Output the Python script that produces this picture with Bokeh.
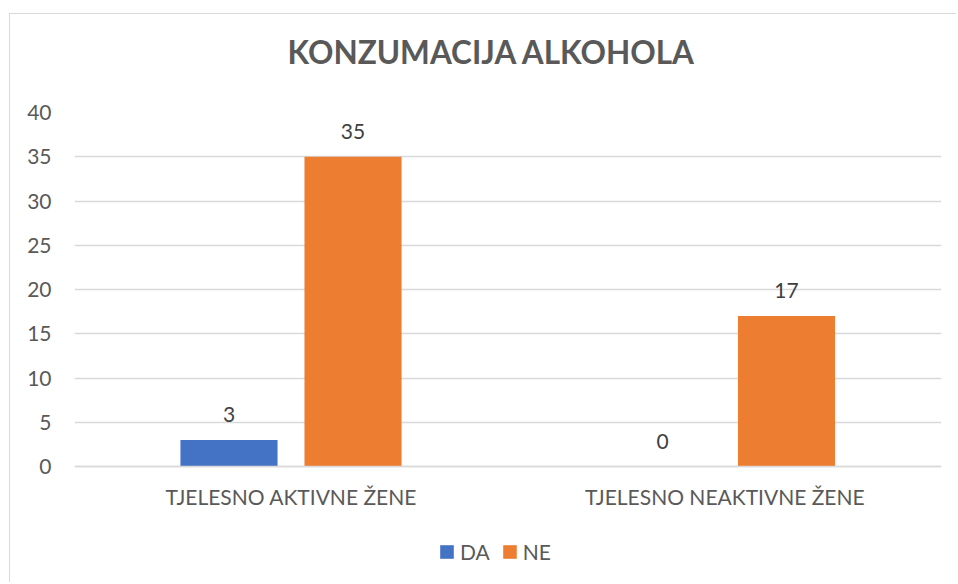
from bokeh.plotting import figure
from bokeh.models import FactorRange, Range1d, ColumnDataSource, LabelSet, SingleIntervalTicker, Legend, LegendItem, Title
from bokeh.core.properties import value
from bokeh.transform import dodge
from bokeh.embed import file_html
from bokeh.resources import INLINE

categories = ["TJELESNO AKTIVNE ŽENE", "TJELESNO NEAKTIVNE ŽENE"]
series_names = ["DA", "NE"]
da_values = [3, 0]
ne_values = [35, 17]
colors = ["#4472C4", "#ED7D31"]
title_text = "KONZUMACIJA ALKOHOLA"
y_min, y_max, y_step = 0, 40, 5

FONT = "Lato"
TXT = "#595959"

src = ColumnDataSource(dict(cat=categories, DA=da_values, NE=ne_values))

# frame runs to the bottom of the canvas so the legend can sit inside it;
# the value axis starts at 0 (axis drawn there), space below holds labels + legend
p = figure(
    x_range=FactorRange(*categories, range_padding=0),
    y_range=Range1d(-13.22, y_max),
    width=947, height=569,
    output_backend="svg", toolbar_location=None,
    min_border_left=64, min_border_right=16, min_border_top=98, min_border_bottom=0,
)
p.styles = {"margin-left": "9px", "margin-top": "13px",
            "border-left": "1px solid #d9d9d9", "border-top": "1px solid #d9d9d9"}

offsets = [-0.1436, 0.1425]
items = []
for name, col, off in zip(series_names, colors, offsets):
    r = p.vbar(x=dodge("cat", off, range=p.x_range), top=name, bottom=y_min, width=0.224,
               source=src, fill_color=col, line_color=None)
    items.append(LegendItem(label=name, renderers=[r]))
    labels = LabelSet(x=dodge("cat", off, range=p.x_range), y=name, text=name, source=src,
                      text_align="center", text_baseline="alphabetic", y_offset=18,
                      text_font=value(FONT), text_font_size=value("21px"), text_color="#404040")
    p.add_layout(labels)

spacer = Title(text=" ", text_font_size="2px", standoff=38)
p.add_layout(spacer, "above")
main_title = Title(text=title_text, align="left", offset=213, standoff=0,
                   text_font=FONT, text_font_size="31.5px", text_font_style="bold",
                   text_color=TXT)
p.add_layout(main_title, "above")

p.outline_line_color = None
p.background_fill_color = "white"
p.border_fill_color = "white"

p.xgrid.grid_line_color = None
p.ygrid.grid_line_color = "#d9d9d9"
p.ygrid.grid_line_width = 1.5
p.ygrid.bounds = (y_min, y_max)
p.yaxis.ticker = SingleIntervalTicker(interval=y_step)
p.yaxis.bounds = (y_min, y_max)
p.yaxis.axis_line_color = None
p.yaxis.major_tick_line_color = None
p.yaxis.minor_tick_line_color = None
p.yaxis.major_tick_out = 0
p.yaxis.major_tick_in = 0
p.yaxis.major_label_standoff = 19
p.yaxis.major_label_text_font = FONT
p.yaxis.major_label_text_font_size = "21px"
p.yaxis.major_label_text_color = TXT

p.xaxis.fixed_location = y_min
p.xaxis.axis_line_color = "#d9d9d9"
p.xaxis.axis_line_width = 1.5
p.xaxis.major_tick_line_color = None
p.xaxis.major_tick_out = 0
p.xaxis.major_tick_in = 0
p.xaxis.major_label_standoff = 17
p.xaxis.major_label_text_font = FONT
p.xaxis.major_label_text_font_size = "21px"
p.xaxis.major_label_text_color = TXT

leg = Legend(items=items, orientation="horizontal", location=(364, 19),
             padding=0, margin=0, spacing=11, border_line_color=None,
             background_fill_alpha=0, glyph_width=17, glyph_height=17,
             label_standoff=5, label_text_font=FONT, label_text_font_size="21px",
             label_text_color=TXT)
p.add_layout(leg, "center")

open("out.html", "w").write(file_html(p, INLINE))
